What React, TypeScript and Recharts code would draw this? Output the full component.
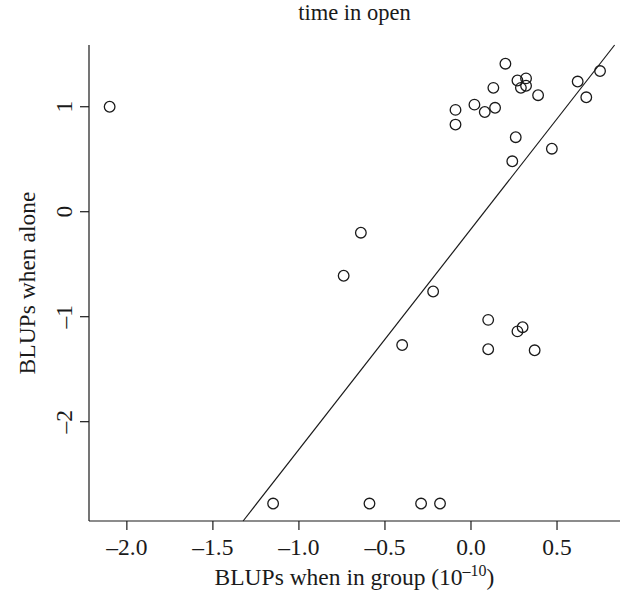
import React from "react";
import {
  ScatterChart,
  Scatter,
  XAxis,
  YAxis,
  ReferenceLine,
} from "recharts";

// BLUPs when in group (x, units 1e-10)
const groupBLUP = [
  -2.1, 0.2, 0.27, 0.32, 0.29, 0.32, 0.13, 0.39, -0.09, 0.02, 0.08, 0.14,
  -0.09, 0.62, 0.75, 0.67, 0.26, 0.47, 0.24, -0.64, -0.74, -0.4, -0.22, 0.1,
  0.3, 0.27, 0.1, 0.37, -1.15, -0.59, -0.29, -0.18,
];
// BLUPs when alone (y)
const aloneBLUP = [
  1.0, 1.41, 1.25, 1.27, 1.18, 1.2, 1.18, 1.11, 0.97, 1.02, 0.95, 0.99, 0.83,
  1.24, 1.34, 1.09, 0.71, 0.6, 0.48, -0.2, -0.61, -1.27, -0.76, -1.03, -1.1,
  -1.14, -1.31, -1.32, -2.78, -2.78, -2.78, -2.78,
];
const xTicks = [-2, -1.5, -1, -0.5, 0, 0.5];
const yTicks = [-2, -1, 0, 1];
const xDomain = [-2.22, 0.866];
const yDomain = [-2.946, 1.588];
// fitted line y = intercept + slope * x
const fitIntercept = -0.165;
const fitSlope = 2.1;

const data = groupBLUP.map((x, i) => ({ x, y: aloneBLUP[i] }));

const FONT = "'Liberation Serif', 'Times New Roman', serif";
const FS = 23.5;
const INK = "#1a1a1a";

const fmt = (v: number, digits: number) => {
  const s = Math.abs(v).toFixed(digits);
  return v < 0 ? "\u2013" + s : s;
};

const YTick = (props: any) => {
  const { x, y, payload } = props;
  return (
    <text
      x={x}
      y={y}
      transform={`rotate(-90, ${x}, ${y})`}
      textAnchor="middle"
      fontFamily={FONT}
      fontSize={FS}
      fill={INK}
    >
      {fmt(payload.value, 0)}
    </text>
  );
};

const XTick = (props: any) => {
  const { x, y, payload } = props;
  return (
    <text
      x={x}
      y={y}
      dy="0.71em"
      textAnchor="middle"
      fontFamily={FONT}
      fontSize={FS}
      fill={INK}
    >
      {fmt(payload.value, 1)}
    </text>
  );
};

const Circle = (props: any) => {
  const { cx, cy } = props;
  return <circle cx={cx} cy={cy} r={5.3} fill="none" stroke={INK} strokeWidth={1.3} />;
};

const fitX0 = (yDomain[0] - fitIntercept) / fitSlope;
const fitX1 = (yDomain[1] - fitIntercept) / fitSlope;

export default function App() {
  return (
    <div style={{ position: "absolute", left: 0, top: 0, width: 625, height: 596 }}>
      <div
        style={{
          position: "absolute",
          left: 89,
          width: 531,
          top: 0,
          textAlign: "center",
          fontFamily: FONT,
          fontSize: 22.5,
          color: INK,
          lineHeight: "26px",
        }}
      >
        time in open
      </div>
      <ScatterChart
        width={625}
        height={596}
        margin={{ top: 45, right: 5, bottom: 0, left: 0 }}
      >
        <XAxis
          type="number"
          dataKey="x"
          domain={xDomain}
          ticks={xTicks}
          allowDataOverflow
          height={75}
          tickSize={9}
          tickMargin={8}
          tick={<XTick />}
          axisLine={{ stroke: INK, strokeWidth: 1.2 }}
          tickLine={{ stroke: INK, strokeWidth: 1.2 }}
          label={(p: any) => {
            const vb = p.viewBox || { x: 89, y: 521, width: 531 };
            return (
              <text
                x={vb.x + vb.width / 2}
                y={vb.y + 64}
                textAnchor="middle"
                fontFamily={FONT}
                fontSize={FS}
                fill={INK}
              >
                BLUPs when in group (10
                <tspan fontSize={16} dy={-9}>
                  {"\u201310"}
                </tspan>
                <tspan dy={9}>)</tspan>
              </text>
            );
          }}
        />
        <YAxis
          type="number"
          dataKey="y"
          domain={yDomain}
          ticks={yTicks}
          allowDataOverflow
          width={89}
          tickSize={9}
          tickMargin={8}
          tick={<YTick />}
          axisLine={{ stroke: INK, strokeWidth: 1.2 }}
          tickLine={{ stroke: INK, strokeWidth: 1.2 }}
          label={(p: any) => {
            const vb = p.viewBox || { x: 0, y: 45, height: 476 };
            const cx = 35;
            const cy = vb.y + vb.height / 2;
            return (
              <text
                x={cx}
                y={cy}
                transform={`rotate(-90, ${cx}, ${cy})`}
                textAnchor="middle"
                fontFamily={FONT}
                fontSize={FS}
                fill={INK}
              >
                BLUPs when alone
              </text>
            );
          }}
        />
        <ReferenceLine
          segment={[
            { x: fitX0, y: yDomain[0] },
            { x: fitX1, y: yDomain[1] },
          ]}
          stroke={INK}
          strokeWidth={1.2}
          ifOverflow="visible"
        />
        <Scatter data={data} shape={<Circle />} isAnimationActive={false} />
      </ScatterChart>
    </div>
  );
}
